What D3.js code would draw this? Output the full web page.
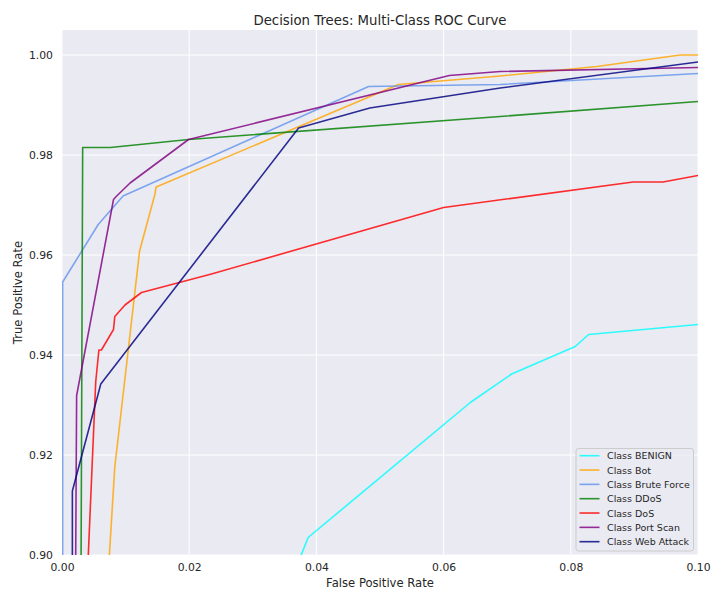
<!DOCTYPE html>
<html>
<head>
<meta charset="utf-8">
<script src="https://cdn.jsdelivr.net/npm/d3@7"></script>
<style>
  html, body { margin: 0; padding: 0; background: #ffffff; }
  svg { display: block; font-family: "DejaVu Sans", sans-serif; }
</style>
</head>
<body>
<svg id="chart" width="711" height="590"></svg>
<script>
// ---- Data ----
const classNames = ["BENIGN", "Bot", "Brute Force", "DDoS", "DoS", "Port Scan", "Web Attack"];
const classColors = ["#00FFFF", "#FFA500", "#6495ED", "#008000", "#FF0000", "#800080", "#000080"];

const fprBenign = [0.0373, 0.0387, 0.0642, 0.0707, 0.0807, 0.0828, 0.1000];
const tprBenign = [0.8990, 0.9035, 0.9305, 0.9362, 0.9417, 0.9441, 0.9461];

const fprBot = [0.0074, 0.0083, 0.0122, 0.0146, 0.0148, 0.0529, 0.0689, 0.0841, 0.0972, 0.1000];
const tprBot = [0.8990, 0.9176, 0.9608, 0.9721, 0.9736, 0.9941, 0.9958, 0.9977, 1.0000, 1.0000];

const fprBrute = [0.0001, 0.0001, 0.0057, 0.0096, 0.0482, 0.0689, 0.1000];
const tprBrute = [0.8990, 0.9546, 0.9661, 0.9718, 0.9937, 0.9941, 0.9963];

const fprDDoS = [0.0030, 0.00325, 0.0076, 0.0199, 0.0689, 0.1000];
const tprDDoS = [0.8990, 0.9815, 0.9815, 0.9831, 0.9877, 0.9907];

const fprDoS = [0.0041, 0.0053, 0.0058, 0.0062, 0.0081, 0.0083, 0.0099, 0.0125, 0.0235, 0.0600, 0.0898, 0.0945, 0.1000];
const tprDoS = [0.8990, 0.9346, 0.9410, 0.9410, 0.9451, 0.9477, 0.9500, 0.9525, 0.9562, 0.9695, 0.9746, 0.9746, 0.9759];

const fprPort = [0.00215, 0.0023, 0.0081, 0.0086, 0.0107, 0.0199, 0.0609, 0.0689, 0.1000];
const tprPort = [0.8990, 0.9319, 0.9711, 0.9718, 0.9744, 0.9831, 0.9959, 0.9967, 0.9975];

const fprWeb = [0.00163, 0.00163, 0.0061, 0.0372, 0.0484, 0.0689, 0.1000];
const tprWeb = [0.8990, 0.9128, 0.9342, 0.9854, 0.9894, 0.9934, 0.9986];

const xTicks = [0.00, 0.02, 0.04, 0.06, 0.08, 0.10];
const yTicks = [0.90, 0.92, 0.94, 0.96, 0.98, 1.00];

const fprs = [fprBenign, fprBot, fprBrute, fprDDoS, fprDoS, fprPort, fprWeb];
const tprs = [tprBenign, tprBot, tprBrute, tprDDoS, tprDoS, tprPort, tprWeb];

const series = classNames.map((name, i) => ({
  name: "Class " + name,
  color: classColors[i],
  points: fprs[i].map((f, j) => [f, tprs[i][j]])
}));

// ---- Layout ----
const svg = d3.select("#chart");
const mLeft = 62, mRight = 698, mTop = 30, mBottom = 555;
const x = d3.scaleLinear().domain([0, 0.1]).range([mLeft, mRight]);
const y = d3.scaleLinear().domain([0.9, 1.005]).range([mBottom, mTop]);

const textColor = "#262626";
const lineOpacity = 0.82;

svg.append("rect").attr("width", 711).attr("height", 590).attr("fill", "#ffffff");
svg.append("rect")
  .attr("x", mLeft).attr("y", mTop)
  .attr("width", mRight - mLeft).attr("height", mBottom - mTop)
  .attr("fill", "#EAEAF2");

// Grid
const grid = svg.append("g");
grid.selectAll("line.gx").data(xTicks).join("line").attr("class", "gx")
  .attr("x1", d => x(d)).attr("x2", d => x(d))
  .attr("y1", mTop).attr("y2", mBottom)
  .attr("stroke", "#ffffff").attr("stroke-width", 1);
grid.selectAll("line.gy").data(yTicks).join("line").attr("class", "gy")
  .attr("x1", mLeft).attr("x2", mRight)
  .attr("y1", d => y(d)).attr("y2", d => y(d))
  .attr("stroke", "#ffffff").attr("stroke-width", 1);

// Axes (no domain lines, no tick marks)
const xAxis = d3.axisBottom(x).tickValues(xTicks).tickFormat(d3.format(".2f")).tickSize(0).tickPadding(8);
const yAxis = d3.axisLeft(y).tickValues(yTicks).tickFormat(d3.format(".2f")).tickSize(0).tickPadding(9);

const gx = svg.append("g").attr("transform", `translate(0,${mBottom})`).call(xAxis);
const gy = svg.append("g").attr("transform", `translate(${mLeft},0)`).call(yAxis);
[gx, gy].forEach(g => {
  g.select(".domain").remove();
  g.selectAll("text").attr("fill", textColor).attr("font-size", "10.8px")
    .attr("font-family", "DejaVu Sans, sans-serif");
});

// Clip
svg.append("clipPath").attr("id", "clip")
  .append("rect").attr("x", mLeft).attr("y", mTop)
  .attr("width", mRight - mLeft).attr("height", mBottom - mTop);

const line = d3.line().x(d => x(d[0])).y(d => y(d[1]));
svg.append("g").attr("clip-path", "url(#clip)")
  .selectAll("path").data(series).join("path")
  .attr("d", d => line(d.points))
  .attr("fill", "none")
  .attr("stroke", d => d.color)
  .attr("stroke-opacity", lineOpacity)
  .attr("stroke-width", 1.6)
  .attr("stroke-linejoin", "round");

// Title and axis labels
svg.append("text").attr("x", (mLeft + mRight) / 2).attr("y", 20)
  .attr("text-anchor", "middle").attr("dominant-baseline", "central")
  .attr("font-size", "13.3px").attr("fill", textColor)
  .text("Decision Trees: Multi-Class ROC Curve");
svg.append("text").attr("x", (mLeft + mRight) / 2).attr("y", 583)
  .attr("text-anchor", "middle").attr("dominant-baseline", "central")
  .attr("font-size", "11.6px").attr("fill", textColor)
  .text("False Positive Rate");
svg.append("text")
  .attr("transform", `translate(18,${(mTop + mBottom) / 2}) rotate(-90)`)
  .attr("text-anchor", "middle").attr("dominant-baseline", "central")
  .attr("font-size", "11.6px").attr("fill", textColor)
  .text("True Positive Rate");

// Legend
const lg = svg.append("g");
lg.append("rect")
  .attr("x", 576).attr("y", 448.5).attr("width", 117.5).attr("height", 102.5)
  .attr("rx", 2.5).attr("ry", 2.5)
  .attr("fill", "#EAEAF2").attr("fill-opacity", 0.8)
  .attr("stroke", "#cccccc").attr("stroke-width", 1);
const items = lg.selectAll("g.item").data(series).join("g").attr("class", "item")
  .attr("transform", (d, i) => `translate(0,${455.7 + i * 14.33})`);
items.append("line")
  .attr("x1", 579.5).attr("x2", 599.5).attr("y1", 0).attr("y2", 0)
  .attr("stroke", d => d.color).attr("stroke-opacity", lineOpacity)
  .attr("stroke-width", 1.6);
items.append("text")
  .attr("x", 607).attr("y", 0).attr("dominant-baseline", "central")
  .attr("font-size", "9.5px").attr("fill", textColor)
  .text(d => d.name);
</script>
</body>
</html>
